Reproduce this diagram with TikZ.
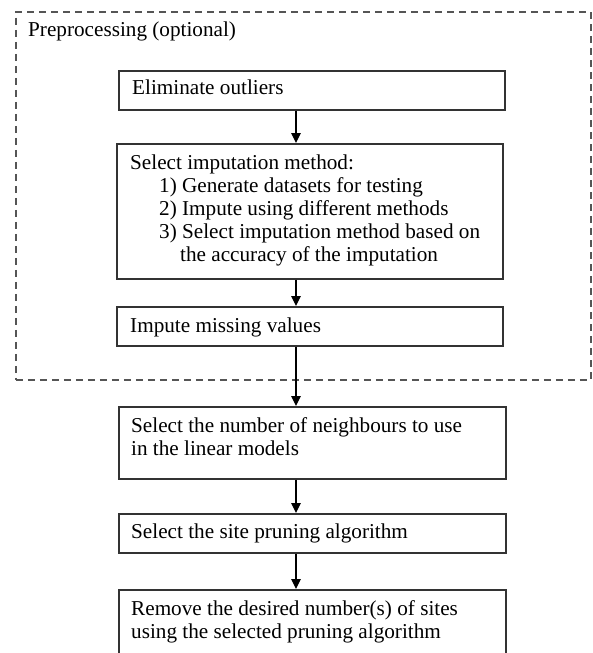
\documentclass[tikz,border=0pt]{standalone}
\usepackage{fontspec}
\setmainfont{Liberation Serif}
\usetikzlibrary{arrows.meta}
\definecolor{framegray}{HTML}{333333}
\definecolor{dashgray}{HTML}{555555}
\begin{document}
\begin{tikzpicture}[x=1pt,y=-1pt,
  box/.style={draw=framegray, line width=1.5pt, anchor=north west, inner sep=0pt},
  lbl/.style={anchor=base west, inner sep=0pt, align=left,
    font=\fontsize{21.2}{23}\selectfont},
  dashbox/.style={draw=dashgray, line width=1.5pt, dash pattern=on 7pt off 5pt,
    anchor=north west, inner sep=0pt},
  arr/.style={draw=black, line width=1.2pt, -{Triangle[length=10pt,width=9.5pt]}}]
  \clip (0,0) rectangle (592,653);

  % optional preprocessing group
  \node[dashbox, minimum width=575pt, minimum height=368pt] (pre) at (15,11) {};
  \node[lbl] (pretitle) at (28,36) {Preprocessing (optional)};

  % process steps
  \node[box, minimum width=386pt, minimum height=39pt]  (b1) at (118,70)  {};
  \node[box, minimum width=386pt, minimum height=135pt] (b2) at (116,143) {};
  \node[box, minimum width=386pt, minimum height=39pt]  (b3) at (116,306) {};
  \node[box, minimum width=387pt, minimum height=72pt]  (b4) at (118,406) {};
  \node[box, minimum width=387pt, minimum height=39pt]  (b5) at (118,513) {};
  \node[box, minimum width=387pt, minimum height=80pt]  (b6) at (118,589) {};

  % step texts (multi-line texts are placed by the baseline of their last line)
  \node[lbl] (t1) at (132,94) {Eliminate outliers};
  \node[lbl] (t2) at (130,261) {Select imputation method:\\
    \hspace*{29pt}1) Generate datasets for testing\\
    \hspace*{29pt}2) Impute using different methods\\
    \hspace*{29pt}3) Select imputation method based on\\
    \hspace*{50pt}the accuracy of the imputation};
  \node[lbl] (t3) at (130,332) {Impute missing values};
  \node[lbl] (t4) at (131,455) {Select the number of neighbours to use\\in the linear models};
  \node[lbl] (t5) at (131,538) {Select the site pruning algorithm};
  \node[lbl] (t6) at (131,638) {Remove the desired number(s) of sites\\using the selected pruning algorithm};

  % flow arrows
  \coordinate (ax) at (296,0);
  \draw[arr] (b1.south -| ax) -- (b2.north -| ax);
  \draw[arr] (b2.south -| ax) -- (b3.north -| ax);
  \draw[arr] (b3.south -| ax) -- (b4.north -| ax);
  \draw[arr] (b4.south -| ax) -- (b5.north -| ax);
  \draw[arr] (b5.south -| ax) -- (b6.north -| ax);
\end{tikzpicture}
\end{document}
